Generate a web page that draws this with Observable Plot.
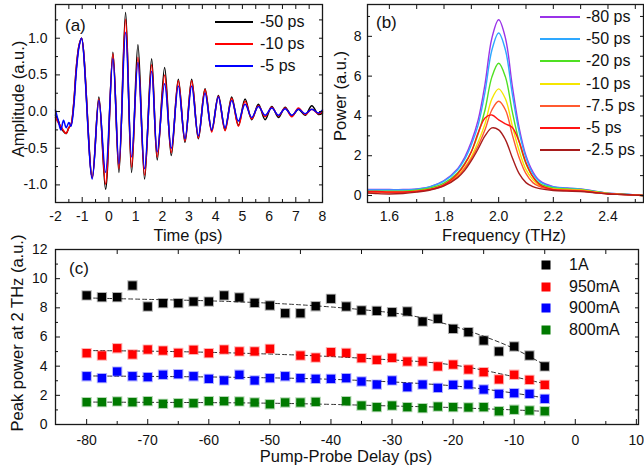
<!DOCTYPE html>
<html><head><meta charset="utf-8">
<script src="https://cdn.jsdelivr.net/npm/d3@7"></script>
<script src="https://cdn.jsdelivr.net/npm/@observablehq/plot@0.6"></script>
<style>
body{margin:0;background:#fff;}
#root{position:relative;width:644px;height:472px;overflow:hidden;font-family:"Liberation Sans",Arial,sans-serif;color:#111;}
#root svg{position:absolute;overflow:visible;}
.t{position:absolute;white-space:nowrap;transform:translate(-50%,-50%);font-size:16.5px;line-height:1;}
.r{transform:translate(-50%,-50%) rotate(-90deg);}
.lg{position:absolute;white-space:nowrap;font-size:16px;line-height:1;transform:translateY(-50%);}
.pl{position:absolute;font-size:17px;line-height:1;transform:translateY(-50%);}
.ln{position:absolute;height:2px;}
.sq{position:absolute;width:9px;height:9px;transform:translate(-50%,-50%);}
</style></head>
<body><div id="root"></div>
<script>
// ---------- Panel (a): time-domain waveforms ----------
const timePs = [-2,-1.9,-1.8,-1.7,-1.6,-1.5,-1.42,-1.32,-1.22,-1.12,-1.025,-0.625,-0.375,-0.125,0.15,0.375,0.625,0.85,1.087,1.337,1.6,1.81,2.087,2.337,2.6,2.85,3.1,3.35,3.6,3.85,4.1,4.35,4.6,4.85,5.1,5.35,5.6,5.85,6.1,6.35,6.6,6.85,7.1,7.35,7.6,7.85,8.0];
const ampM50 = [-0.05,-0.12,-0.22,-0.27,-0.3,-0.22,-0.18,0.1,0.6,0.9,1.0,-0.9,0.2,-1.06,0.81,-0.83,1.35,-0.83,0.91,-0.92,0.72,-0.66,0.6,-0.6,0.44,-0.42,0.44,-0.37,0.31,-0.26,0.22,-0.25,0.2,-0.19,0.17,-0.11,0.1,-0.11,0.07,-0.08,0.06,-0.06,0.03,-0.05,0.08,-0.04,-0.02];
const ampM10 = [-0.08,-0.15,-0.2,-0.26,-0.3,-0.22,-0.18,0.1,0.6,0.9,1.0,-0.9,0.17,-0.99,0.79,-0.78,1.26,-0.76,0.74,-0.87,0.64,-0.62,0.5,-0.56,0.42,-0.4,0.42,-0.36,0.3,-0.28,0.21,-0.26,0.18,-0.2,0.14,-0.1,0.08,-0.07,0.06,-0.06,0.05,-0.07,0.05,-0.04,0.03,-0.03,0.0];
const ampM5  = [0.02,-0.12,-0.25,-0.12,-0.22,-0.15,-0.2,0.05,0.55,0.88,1.0,-0.92,0.15,-0.83,0.72,-0.71,1.08,-0.62,0.67,-0.78,0.55,-0.55,0.38,-0.5,0.35,-0.37,0.35,-0.33,0.25,-0.25,0.2,-0.22,0.15,-0.13,0.1,-0.08,0.07,-0.05,0.05,-0.05,0.04,-0.05,0.03,-0.03,0.03,-0.02,0.02];
const seriesA = ["-50 ps","-10 ps","-5 ps"];
const colorsA = ["#000000","#ff0000","#0000ff"];
const aXMajor = [-2,-1,0,1,2,3,4,5,6,7,8];
const aXMinor = [-1.5,-0.5,0.5,1.5,2.5,3.5,4.5,5.5,6.5,7.5];
const aYMajor = [-1,-0.5,0,0.5,1];
const aYMinor = [-0.75,-0.25,0.25,0.75,1.25];

// ---------- Panel (b): spectra ----------
const freqTHz = [1.52,1.55,1.6,1.65,1.7,1.75,1.8,1.85,1.875,1.9,1.925,1.95,1.975,2.0,2.025,2.05,2.075,2.1,2.125,2.15,2.2,2.25,2.3,2.35,2.4,2.45,2.5,2.53];
const powM80  = [0.3,0.3,0.3,0.3,0.33,0.45,0.75,1.35,1.9,2.7,3.8,5.6,7.9,8.83,7.9,5.5,3.4,2.0,1.2,0.75,0.45,0.38,0.33,0.22,0.12,0.08,0.03,0.0];
const powM50  = [0.28,0.28,0.28,0.28,0.32,0.45,0.72,1.3,1.8,2.55,3.55,5.2,7.3,8.17,7.3,5.1,3.2,1.9,1.1,0.7,0.43,0.37,0.32,0.22,0.12,0.08,0.03,0.0];
const powM20  = [0.22,0.22,0.22,0.22,0.27,0.38,0.62,1.15,1.6,2.2,3.1,4.3,5.95,6.65,5.95,4.2,2.7,1.6,0.95,0.6,0.38,0.33,0.3,0.2,0.11,0.07,0.03,0.0];
const powM10  = [0.18,0.18,0.18,0.18,0.22,0.32,0.52,1.0,1.4,1.95,2.7,3.6,4.85,5.36,4.85,3.5,2.25,1.3,0.8,0.5,0.33,0.3,0.28,0.19,0.1,0.06,0.03,0.0];
const powM7_5 = [0.15,0.15,0.15,0.16,0.2,0.3,0.5,0.95,1.35,1.85,2.5,3.3,4.3,4.74,4.3,3.05,1.9,1.1,0.65,0.45,0.3,0.27,0.25,0.17,0.1,0.06,0.03,0.0];
const powM5   = [0.2,0.2,0.18,0.18,0.22,0.32,0.55,1.1,1.55,2.2,3.15,3.9,4.05,3.8,3.6,3.42,2.7,1.65,0.95,0.55,0.3,0.25,0.22,0.15,0.08,0.05,0.02,0.0];
const powM2_5 = [0.12,0.1,0.08,0.1,0.17,0.28,0.48,0.9,1.25,1.75,2.35,3.0,3.4,3.3,2.8,1.9,1.1,0.65,0.45,0.35,0.25,0.22,0.2,0.14,0.08,0.05,0.02,0.0];
const seriesB = ["-80 ps","-50 ps","-20 ps","-10 ps","-7.5 ps","-5 ps","-2.5 ps"];
const colorsB = ["#9a33e8","#2ea8ff","#4fe022","#f5e600","#ff5a30","#ff1414","#a81c1c"];
const bXMajor = [1.6,1.8,2.0,2.2,2.4];
const bXMinor = [1.7,1.9,2.1,2.3,2.5];
const bYMajor = [0,2,4,6,8];
const bYMinor = [1,3,5,7,9];

// ---------- Panel (c): peak power vs delay ----------
const delayPs = [-80,-77.5,-75,-72.5,-70,-67.5,-65,-62.5,-60,-57.5,-55,-52.5,-50,-47.5,-45,-42.5,-40,-37.5,-35,-32.5,-30,-27.5,-25,-22.5,-20,-17.5,-15,-12.5,-10,-7.5,-5];
const peak1A    = [8.85,8.73,8.73,9.53,8.09,8.32,8.32,8.43,8.43,8.85,8.71,8.34,8.16,7.63,7.63,8.11,8.62,8.09,7.82,7.79,7.7,7.75,7.06,7.25,6.56,6.33,5.76,5.01,5.35,4.73,3.98];
const peak950mA = [4.89,4.73,5.23,4.8,5.14,5.07,4.91,5.12,4.89,5.14,5.01,5.01,5.19,null,4.73,4.59,4.96,4.91,4.55,4.43,4.57,4.32,4.32,3.98,4.11,3.77,3.59,3.09,3.41,3.06,2.72];
const peak900mA = [3.31,3.18,3.63,3.31,3.25,3.41,3.45,3.31,3.13,3.02,3.41,3.02,3.18,3.31,3.18,3.13,3.13,3.18,2.95,2.74,3.02,2.56,2.74,2.51,2.72,2.74,2.4,2.1,2.15,2.1,1.76];
const peak800mA = [1.53,1.53,1.58,1.53,1.6,1.42,1.46,1.46,1.6,1.6,1.58,1.51,1.39,1.51,1.51,1.55,null,1.6,1.3,1.19,1.3,1.19,1.12,1.23,1.19,1.17,1.19,0.91,1.01,0.96,0.91];
const fitDelay  = [-80,-70,-60,-50,-40,-30,-25,-20,-15,-10,-5];
const fit1A     = [8.68,8.58,8.48,8.32,8.06,7.66,7.3,6.75,6.05,5.2,4.08];
const fit950mA  = [5.07,5.03,4.95,4.83,4.66,4.43,4.3,4.08,3.72,3.27,2.8];
const fit900mA  = [3.33,3.3,3.26,3.2,3.1,2.92,2.8,2.65,2.43,2.15,1.82];
const fit800mA  = [1.54,1.52,1.5,1.46,1.38,1.27,1.22,1.16,1.08,1.0,0.9];
const seriesC = ["1A","950mA","900mA","800mA"];
const colorsC = ["#000000","#ff0000","#0000ff","#007a00"];
const cXMajor = [-80,-70,-60,-50,-40,-30,-20,-10,0,10];
const cXMinor = [-75,-65,-55,-45,-35,-25,-15,-5,5];
const cYMajor = [0,2,4,6,8,10,12];
const cYMinor = [1,3,5,7,9,11];

const FONT = '"Liberation Sans", Arial, sans-serif';
const blank = () => "";

function frameTicks(xMaj, xMin, yMaj, yMin, xTop, yRight) {
  return [
    Plot.axisX({anchor: "bottom", ticks: xMaj, tickSize: -5, tickFormat: blank, label: null}),
    Plot.axisX({anchor: "bottom", ticks: xMin, tickSize: -3, tickFormat: blank, label: null}),
    Plot.axisX({anchor: "top", ticks: xTop, tickSize: -4, tickFormat: blank, label: null}),
    Plot.axisY({anchor: "left", ticks: yMaj, tickSize: -5, tickFormat: blank, label: null}),
    Plot.axisY({anchor: "left", ticks: yMin, tickSize: -3, tickFormat: blank, label: null}),
    Plot.axisY({anchor: "right", ticks: yRight, tickSize: -4, tickFormat: blank, label: null})
  ];
}

const root = document.getElementById("root");
function place(svg, left, top) { svg.style.left = left + "px"; svg.style.top = top + "px"; root.appendChild(svg); }

// Panel (a)
const rowsA = [ampM50, ampM10, ampM5].flatMap((arr, k) => timePs.map((t, i) => ({t, v: arr[i], s: seriesA[k]})));
const panelA = Plot.plot({
  width: 330, height: 245, marginLeft: 55, marginRight: 8, marginTop: 4, marginBottom: 43,
  x: {domain: [-2, 8]}, y: {domain: [-1.24, 1.46]},
  color: {domain: seriesA, range: colorsA},
  style: {fontFamily: FONT, fontSize: "14px", color: "#111", background: "transparent"},
  marks: [
    Plot.line(rowsA, {x: "t", y: "v", z: "s", stroke: "s", strokeWidth: 1.5, curve: "catmull-rom"}),
    Plot.frame({stroke: "#1a1a1a", strokeWidth: 1.3}),
    Plot.axisX({ticks: aXMajor, tickSize: 0, tickPadding: 9, tickFormat: d => String(d), label: null}),
    Plot.axisY({ticks: aYMajor, tickSize: 0, tickPadding: 8, tickFormat: d => d.toFixed(1), label: null}),
    ...frameTicks(aXMajor, aXMinor, aYMajor, aYMinor, aXMajor.concat(aXMinor), aYMajor.concat(aYMinor))
  ]
});
place(panelA, 0, 0);

// Panel (b)
const rowsB = [powM80, powM50, powM20, powM10, powM7_5, powM5, powM2_5].flatMap((arr, k) => freqTHz.map((f, i) => ({f, p: arr[i], s: seriesB[k]})));
const panelB = Plot.plot({
  width: 324, height: 245, marginLeft: 47, marginRight: 1, marginTop: 4, marginBottom: 43,
  x: {domain: [1.52, 2.53]}, y: {domain: [-0.35, 9.6]},
  color: {domain: seriesB, range: colorsB},
  style: {fontFamily: FONT, fontSize: "14px", color: "#111", background: "transparent"},
  marks: [
    Plot.line(rowsB, {x: "f", y: "p", z: "s", stroke: "s", strokeWidth: 1.4, curve: "catmull-rom", clip: true}),
    Plot.frame({stroke: "#1a1a1a", strokeWidth: 1.3}),
    Plot.axisX({ticks: bXMajor, tickSize: 0, tickPadding: 9, tickFormat: d => d.toFixed(1), label: null}),
    Plot.axisY({ticks: bYMajor, tickSize: 0, tickPadding: 6, tickFormat: d => String(d), label: null}),
    ...frameTicks(bXMajor, bXMinor, bYMajor, bYMinor, bXMajor.concat(bXMinor), bYMajor.concat(bYMinor))
  ]
});
place(panelB, 320, 0);

// Panel (c)
const pointsC = [peak1A, peak950mA, peak900mA, peak800mA].flatMap((arr, k) => delayPs.map((d, i) => ({d, p: arr[i], s: seriesC[k]}))).filter(r => r.p != null);
const fitsC = [fit1A, fit950mA, fit900mA, fit800mA].flatMap((arr, k) => fitDelay.map((d, i) => ({d, p: arr[i], s: seriesC[k]})));
const panelC = Plot.plot({
  width: 644, height: 232, marginLeft: 55, marginRight: 6, marginTop: 9, marginBottom: 48,
  x: {domain: [-85.1, 10.35]}, y: {domain: [0, 12]},
  color: {domain: seriesC, range: colorsC},
  style: {fontFamily: FONT, fontSize: "14px", color: "#111", background: "transparent"},
  marks: [
    Plot.line(fitsC, {x: "d", y: "p", z: "s", stroke: "#333", strokeWidth: 1, strokeDasharray: "4,3", curve: "natural"}),
    Plot.dot(pointsC, {x: "d", y: "p", symbol: "square", r: 4.7, fill: "s", stroke: "s", strokeOpacity: 0.3, strokeWidth: 2}),
    Plot.frame({stroke: "#1a1a1a", strokeWidth: 1.3}),
    Plot.axisX({ticks: cXMajor, tickSize: 0, tickPadding: 11, tickFormat: d => String(d), label: null}),
    Plot.axisY({ticks: cYMajor, tickSize: 0, tickPadding: 8, tickFormat: d => String(d), label: null}),
    ...frameTicks(cXMajor, cXMinor, cYMajor, cYMinor, cXMinor, cYMajor.concat(cYMinor).filter(v => v > 0 && v < 12))
  ]
});
place(panelC, 0, 240);

// ---------- Text: titles, panel labels, legends ----------
function addText(cls, text, x, y) { const e = document.createElement("div"); e.className = cls; e.textContent = text; e.style.left = x + "px"; e.style.top = y + "px"; root.appendChild(e); return e; }
addText("t", "Time (ps)", 188, 234.5);
addText("t", "Frequency (THz)", 504, 234.5);
addText("t", "Pump-Probe Delay (ps)", 346, 456);
addText("t r", "Amplitude (a.u.)", 18, 99);
addText("t r", "Power (a.u.)", 340, 96);
addText("t r", "Peak power at 2 THz (a.u.)", 17, 333);
addText("pl", "(a)", 65, 25);
addText("pl", "(b)", 376, 22);
addText("pl", "(c)", 69, 268);

function legendLine(x, w, y, color) {
  const l = document.createElement("div"); l.className = "ln";
  l.style.left = x + "px"; l.style.width = w + "px"; l.style.top = Math.round(y - 1) + "px"; l.style.background = color;
  root.appendChild(l);
}
seriesA.forEach((s, i) => { const y = 22 + 22 * i; legendLine(215, 38, y, colorsA[i]); addText("lg", s, 260, y); });
seriesB.forEach((s, i) => { const y = 17 + 22.2 * i; legendLine(540, 40, y, colorsB[i]); addText("lg", s, 586, y); });
seriesC.forEach((s, i) => {
  const y = 265 + 21.6 * i;
  const q = document.createElement("div"); q.className = "sq"; q.style.left = "546px"; q.style.top = y + "px"; q.style.background = colorsC[i]; root.appendChild(q);
  addText("lg", s, 569, y);
});
</script>
</body></html>
